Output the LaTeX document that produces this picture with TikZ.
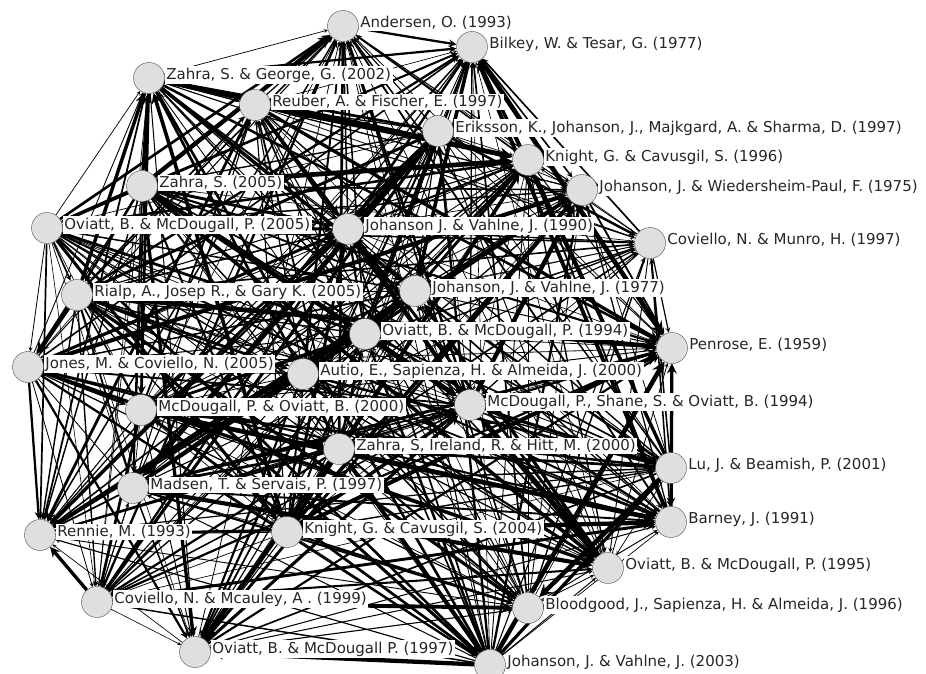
\documentclass[tikz,border=0pt]{standalone}
\usepackage{fontspec}
\setmainfont{DejaVu Sans}
\usetikzlibrary{arrows,positioning,backgrounds}

% publication years, in the order of the nodes below
\def\pubyears{{1993,1977,2002,1997,1997,1996,2005,1975,2005,1990,1997,2005,1977,1994,1959,2005,2000,2000,1994,2000,2001,1997,1993,2004,1991,1995,1999,1996,1997,2003}}

\begin{document}
\begin{tikzpicture}[
    x=1pt, y=-1pt,
    >=stealth,
    paper/.style={circle, draw=gray!60!black, fill=gray!25, minimum size=31pt, inner sep=0pt},
    tag/.style={fill=white, inner sep=1.5pt, text=black!85, yshift=3pt,
                font=\fontsize{15}{17}\selectfont},
    cite/.style={->, draw=black}
]
    \useasboundingbox (0,0) rectangle (926,673);

    % Papers
    \foreach \id/\px/\py/\txt in {
        1/343/26/{Andersen, O. (1993)},
        2/472/47/{Bilkey, W. \& Tesar, G. (1977)},
        3/149/78/{Zahra, S. \& George, G. (2002)},
        4/255/105/{Reuber, A. \& Fischer, E. (1997)},
        5/438/131/{Eriksson, K., Johanson, J., Majkgard, A. \& Sharma, D. (1997)},
        6/528/160/{Knight, G. \& Cavusgil, S. (1996)},
        7/142/186/{Zahra, S. (2005)},
        8/582/190/{Johanson, J. \& Wiedersheim-Paul, F. (1975)},
        9/47/228/{Oviatt, B. \& McDougall, P. (2005)},
        10/348/229/{Johanson J. \& Vahlne, J. (1990)},
        11/650/243/{Coviello, N. \& Munro, H. (1997)},
        12/77/295/{Rialp, A., Josep R., \& Gary K. (2005)},
        13/415/291/{Johanson, J. \& Vahlne, J. (1977)},
        14/365/334/{Oviatt, B. \& McDougall, P. (1994)},
        15/672/348/{Penrose, E. (1959)},
        16/28/367/{Jones, M. \& Coviello, N. (2005)},
        17/303/374/{Autio, E., Sapienza, H. \& Almeida, J. (2000)},
        18/141/410/{McDougall, P. \& Oviatt, B. (2000)},
        19/470/405/{McDougall, P., Shane, S. \& Oviatt, B. (1994)},
        20/339/449/{Zahra, S, Ireland, R. \& Hitt, M. (2000)},
        21/671/468/{Lu, J. \& Beamish, P. (2001)},
        22/133/488/{Madsen, T. \& Servais, P. (1997)},
        23/40/535/{Rennie, M. (1993)},
        24/287/532/{Knight, G. \& Cavusgil, S. (2004)},
        25/671/522/{Barney, J. (1991)},
        26/608/568/{Oviatt, B. \& McDougall, P. (1995)},
        27/97/602/{Coviello, N. \& Mcauley, A . (1999)},
        28/528/608/{Bloodgood, J., Sapienza, H. \& Almeida, J. (1996)},
        29/195/652/{Oviatt, B. \& McDougall P. (1997)},
        30/490/665/{Johanson, J. \& Vahlne, J. (2003)}}
    {
        \node[paper] (n\id) at (\px,\py) {};
        \node[tag, right=0pt of n\id] (t\id) {\txt};
    }

    % Citations (newer cites older)
    \begin{pgfonlayer}{background}
        \fill[white] (0,0) rectangle (926,673);
        \pgfmathsetseed{11}
        \foreach \i in {1,...,29}{
            \pgfmathtruncatemacro\first{\i+1}
            \foreach \j in {\first,...,30}{
                \pgfmathsetmacro\keep{rnd}
                \pgfmathsetmacro\w{0.6+5*rnd*rnd}
                \pgfmathtruncatemacro\yi{\pubyears[\i-1]}
                \pgfmathtruncatemacro\yj{\pubyears[\j-1]}
                \ifdim\keep pt<0.92pt
                    \ifnum\yi<\yj
                        \draw[cite, line width=\w pt] (n\j) -- (n\i);
                    \else
                        \draw[cite, line width=\w pt] (n\i) -- (n\j);
                    \fi
                \fi
            }
        }
    \end{pgfonlayer}
\end{tikzpicture}
\end{document}
